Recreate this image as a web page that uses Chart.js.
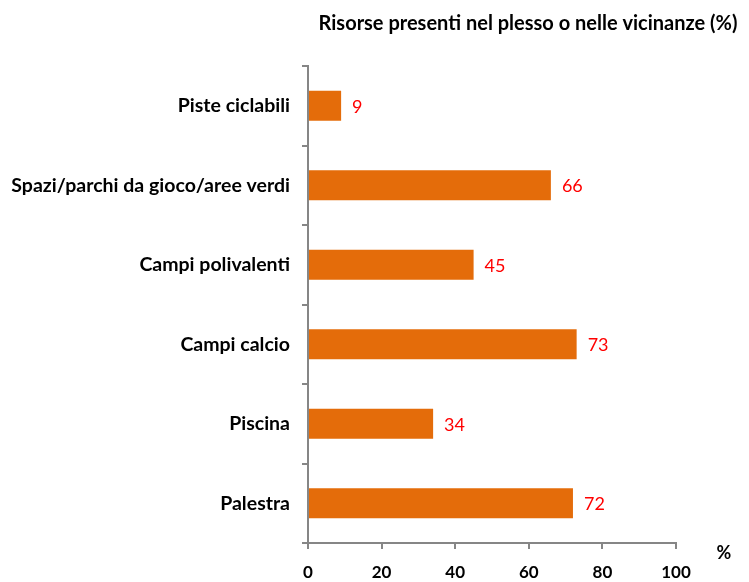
<!DOCTYPE html>
<html>
<head>
<meta charset="utf-8">
<script src="https://cdn.jsdelivr.net/npm/chart.js@4"></script>
<style>
  html, body { margin: 0; padding: 0; background: #fff; }
  #wrap { width: 749px; height: 582px; }
</style>
</head>
<body>
<div id="wrap"><canvas id="chart" width="749" height="582"></canvas></div>
<script>
// Data
const categories = [
  "Piste ciclabili",
  "Spazi/parchi da gioco/aree verdi",
  "Campi polivalenti",
  "Campi calcio",
  "Piscina",
  "Palestra",
];
const values = [9, 66, 45, 73, 34, 72];
const xTicks = [0, 20, 40, 60, 80, 100];
const chartTitle = "Risorse presenti nel plesso o nelle vicinanze (%)";
const unitLabel = "%";

const FONT = "Lato, 'Open Sans', sans-serif";
const AXIS_GREY = "#868686";

// draws the value next to each bar, the title and the "%" label
const extrasPlugin = {
  id: "extras",
  afterDatasetsDraw(chart) {
    const { ctx } = chart;
    const meta = chart.getDatasetMeta(0);
    ctx.save();
    ctx.font = "18px " + FONT;
    ctx.fillStyle = "#ff0000";
    ctx.textAlign = "left";
    ctx.textBaseline = "middle";
    meta.data.forEach((bar, i) => {
      ctx.fillText(values[i], bar.x + 11, bar.y + 1);
    });
    ctx.restore();
  },
  afterDraw(chart) {
    const { ctx } = chart;
    ctx.save();
    ctx.fillStyle = "#000";
    ctx.font = "bold 20px " + FONT;
    ctx.textAlign = "center";
    ctx.textBaseline = "middle";
    ctx.fillText(chartTitle, 528, 24);
    ctx.font = "bold 18px " + FONT;
    ctx.fillText(unitLabel, 724, 553);
    ctx.restore();
  },
};

new Chart(document.getElementById("chart").getContext("2d"), {
  type: "bar",
  data: {
    labels: categories,
    datasets: [
      {
        data: values,
        backgroundColor: "#e46c0a",
        borderWidth: 0,
        barPercentage: 0.76,
        categoryPercentage: 0.5,
      },
    ],
  },
  options: {
    indexAxis: "y",
    responsive: false,
    animation: false,
    layout: { padding: { top: 66, right: 73, bottom: 0, left: 0 } },
    plugins: {
      legend: { display: false },
      tooltip: { enabled: false },
    },
    scales: {
      x: {
        min: 0,
        max: 100,
        afterBuildTicks: (axis) => {
          axis.ticks = xTicks.map((v) => ({ value: v }));
        },
        afterFit: (axis) => {
          axis.height = 39;
        },
        border: { color: AXIS_GREY, width: 2 },
        grid: {
          drawOnChartArea: false,
          color: AXIS_GREY,
          lineWidth: 2,
          tickLength: 6,
        },
        ticks: {
          color: "#000",
          font: { family: FONT, size: 17, weight: "bold" },
          padding: 13,
          maxRotation: 0,
        },
      },
      y: {
        afterFit: (axis) => {
          axis.width = 308;
        },
        border: { color: AXIS_GREY, width: 2 },
        grid: {
          offset: true,
          drawOnChartArea: false,
          color: AXIS_GREY,
          lineWidth: 2,
          tickLength: 6,
        },
        ticks: {
          color: "#000",
          font: { family: FONT, size: 19.5, weight: "bold" },
          padding: 12,
        },
      },
    },
  },
  plugins: [extrasPlugin],
});
</script>
</body>
</html>
